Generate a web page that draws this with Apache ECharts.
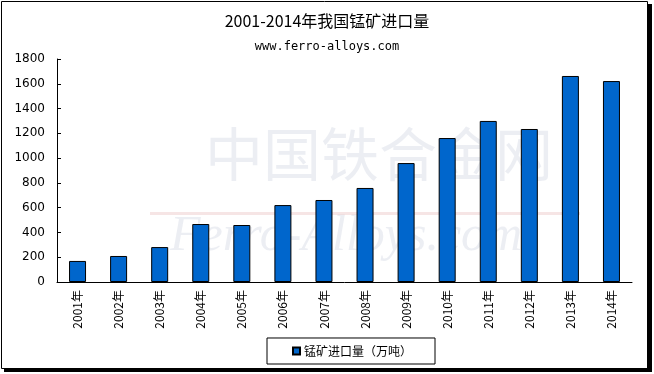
<!DOCTYPE html>
<html><head><meta charset="utf-8">
<script src="https://cdn.jsdelivr.net/npm/echarts@6/dist/echarts.min.js"></script>
<style>html,body{margin:0;padding:0;background:#fff}#c{width:654px;height:374px}</style>
</head><body><div id="c"></div>
<script>
var categories = ['2001年','2002年','2003年','2004年','2005年','2006年','2007年','2008年','2009年','2010年','2011年','2012年','2013年','2014年'];
var imports = [170, 210, 282, 468, 460, 621, 662, 759, 960, 1162, 1300, 1235, 1663, 1622];
var seriesName = '锰矿进口量（万吨）';
var titleText = '2001-2014年我国锰矿进口量';
var subText = 'www.ferro-alloys.com';

var chart = echarts.init(document.getElementById('c'), null, {renderer:'canvas'});
chart.setOption({
  animation:false,
  backgroundColor:'#fff',
  title:{
    text:titleText, subtext:subText, left:'center', top:8, itemGap:12,
    textStyle:{fontFamily:'Noto Sans CJK SC', fontSize:16, fontWeight:'normal', color:'#000'},
    subtextStyle:{fontFamily:'DejaVu Sans Mono', fontSize:12, color:'#000'}
  },
  graphic:[
    {type:'text', left:205, top:125, z:-1, style:{text:'中国铁合金网', fontSize:58, fontFamily:'Noto Sans CJK SC', fill:'rgba(150,160,190,0.18)'}},
    {type:'text', left:170, top:212, z:-1, style:{text:'Ferro-Alloys.com', fontSize:50, fontStyle:'italic', fontFamily:'Liberation Serif', fill:'rgba(150,160,190,0.18)'}},
    {type:'rect', shape:{x:150,y:212,width:430,height:3}, z:-1, style:{fill:'rgba(220,150,150,0.25)'}},
    {type:'rect', shape:{x:1.5,y:1.5,width:646,height:367}, style:{fill:'none', stroke:'#000', lineWidth:1}},
    {type:'rect', shape:{x:648,y:4,width:4,height:368}, style:{fill:'#000'}},
    {type:'rect', shape:{x:4,y:368,width:648,height:4}, style:{fill:'#000'}}
  ],
  legend:{
    bottom:10, left:267, itemWidth:7, itemHeight:7, itemGap:4, padding:[7,23,7,25],
    borderColor:'#000', borderWidth:1, icon:'rect',
    textStyle:{fontFamily:'Noto Sans CJK SC', fontSize:12, color:'#000', padding:[0,0,0,-1]},
    data:[seriesName]
  },
  grid:{left:57, right:22, top:59, bottom:92, containLabel:false},
  xAxis:{
    type:'category', data:categories,
    axisLine:{lineStyle:{color:'#000', width:1}},
    axisTick:{inside:true, length:4, lineStyle:{color:'#000'}},
    axisLabel:{rotate:90, margin:8, fontFamily:'Noto Sans CJK SC', fontSize:12, color:'#000', interval:0}
  },
  yAxis:{
    type:'value', min:0, max:1800, interval:200,
    axisLine:{show:true, lineStyle:{color:'#000', width:1}},
    axisTick:{show:true, inside:true, length:4, lineStyle:{color:'#000'}},
    splitLine:{show:false},
    axisLabel:{margin:12, fontFamily:'DejaVu Sans', fontSize:12, color:'#000', formatter:function(v){return String(v);}}
  },
  series:[{
    name:seriesName, type:'bar', data:imports, barWidth:17,
    itemStyle:{color:'#0066CC', borderColor:'#000', borderWidth:1}
  }]
});
</script></body></html>
